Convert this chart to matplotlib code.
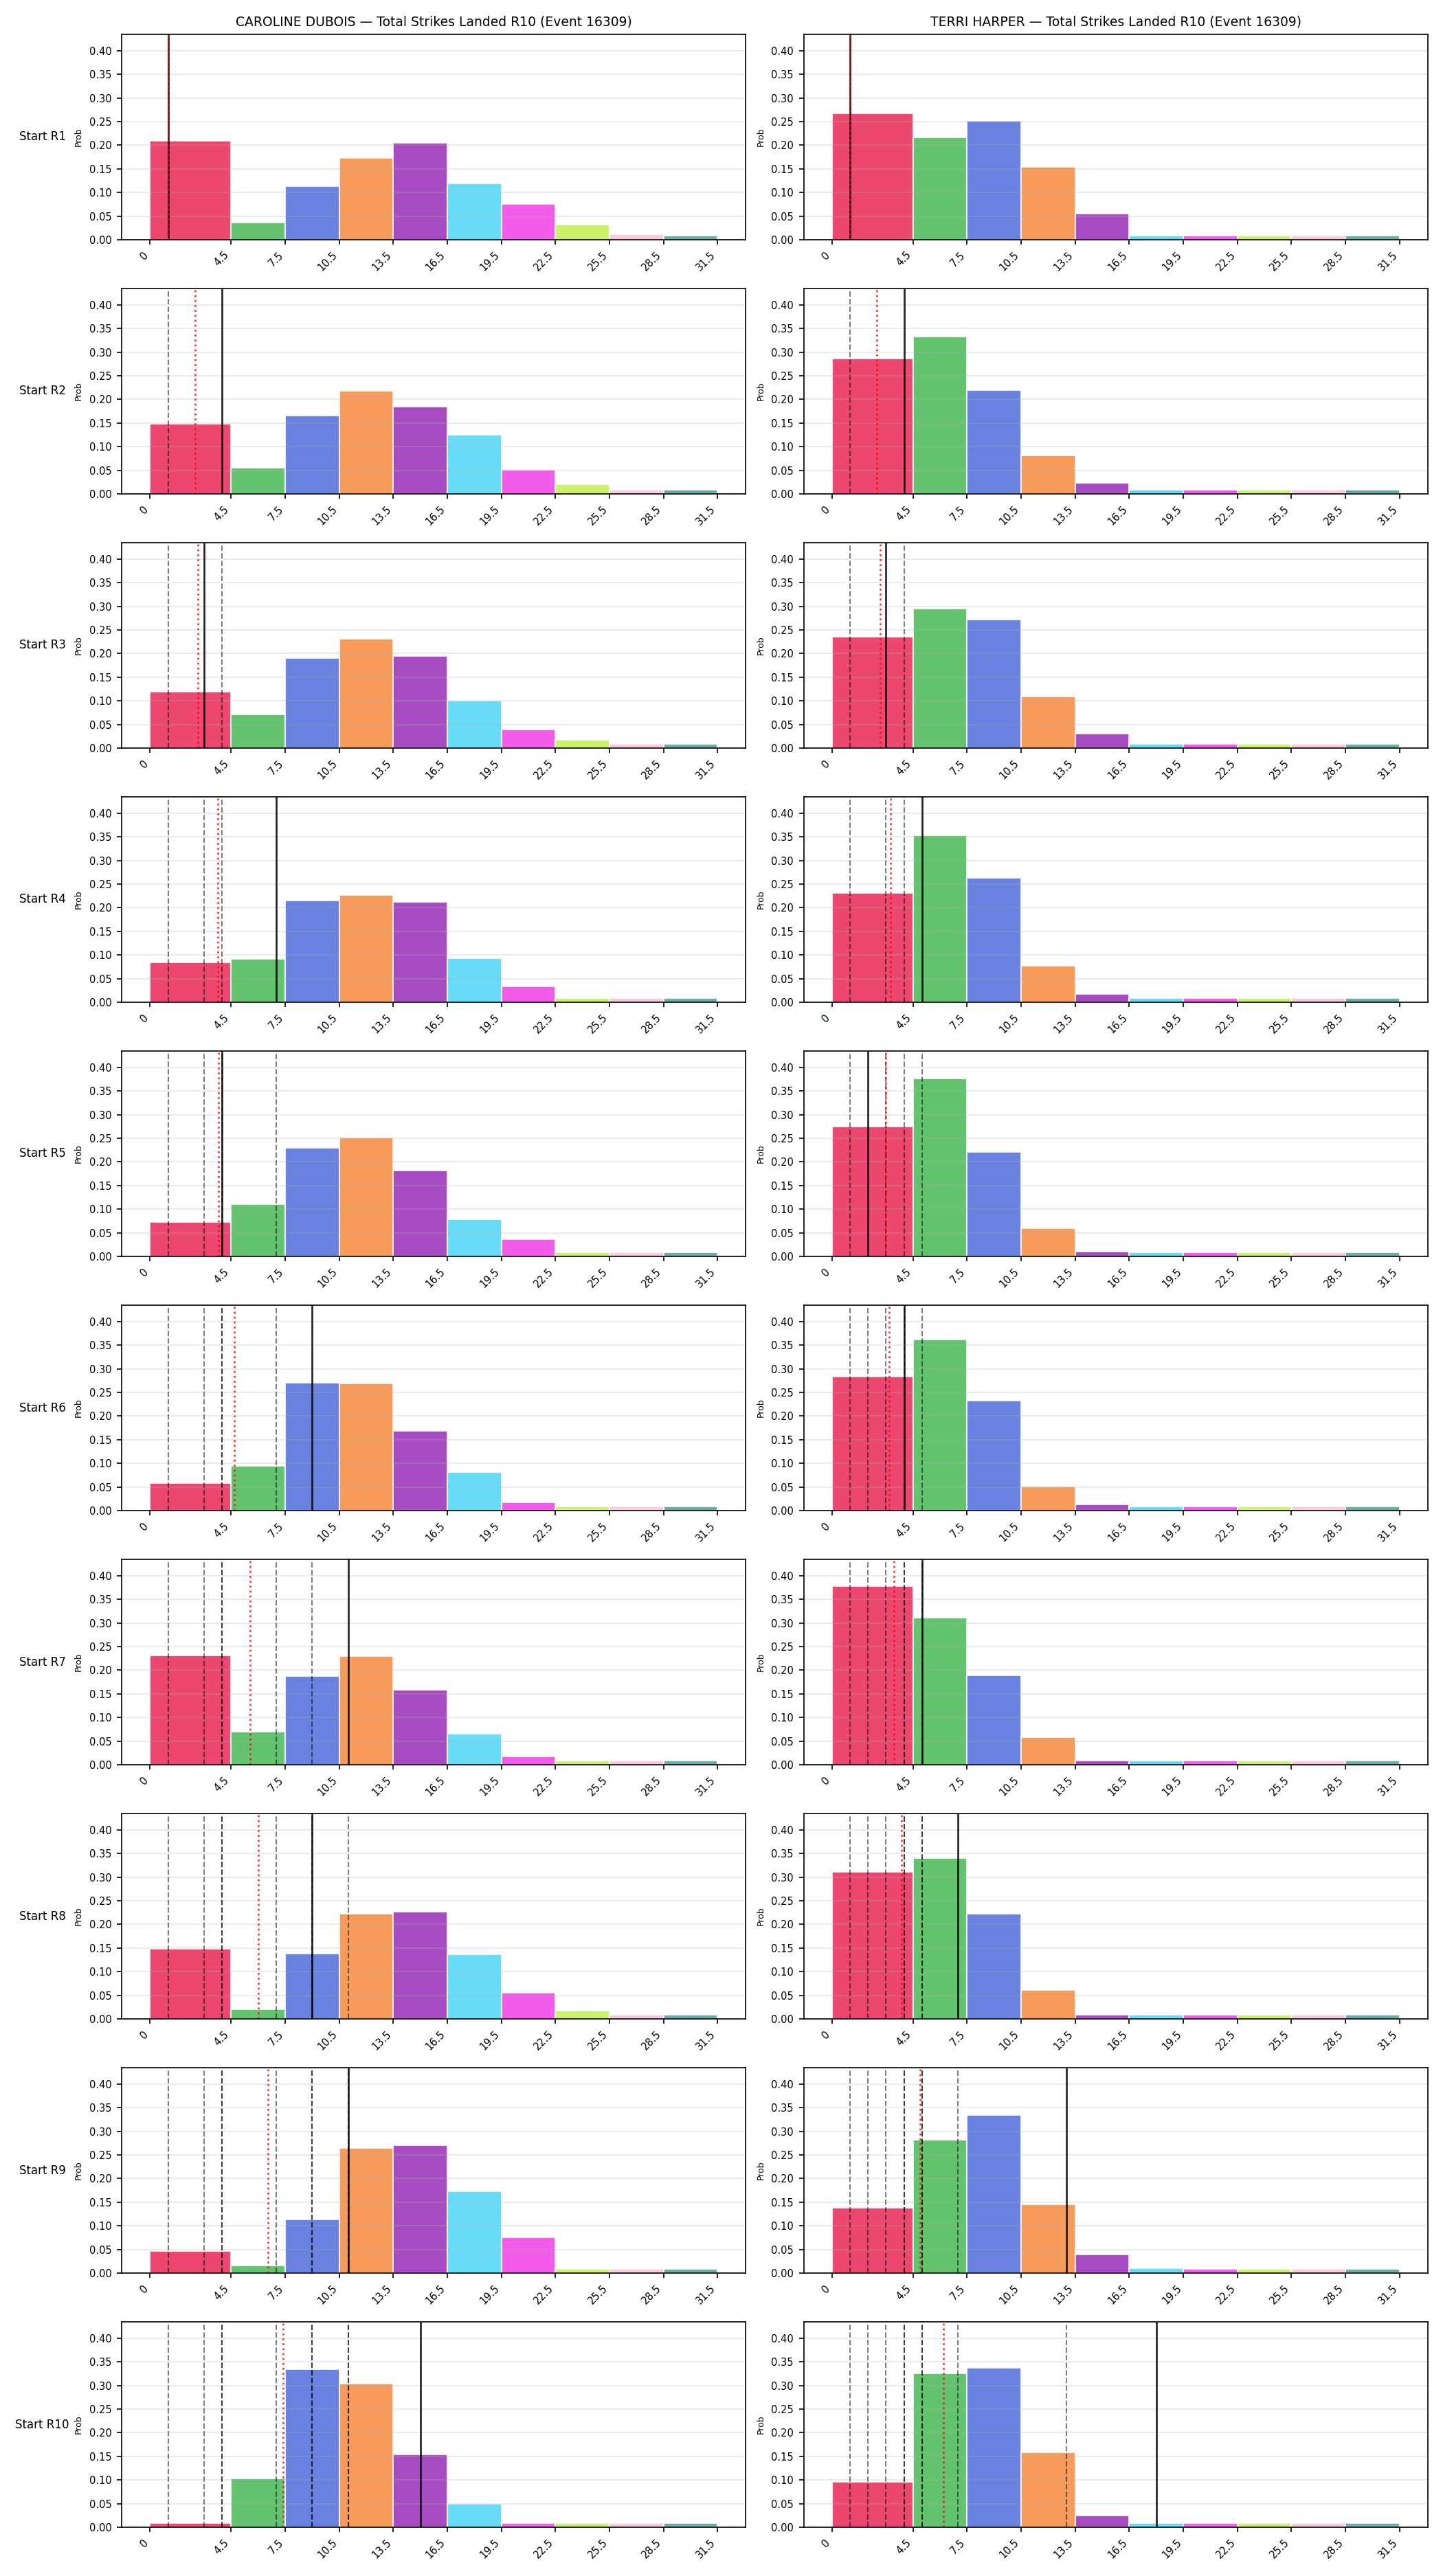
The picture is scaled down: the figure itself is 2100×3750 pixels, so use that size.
import numpy as np
import matplotlib
matplotlib.use("Agg")
import matplotlib.pyplot as plt

fighters = ["CAROLINE DUBOIS", "TERRI HARPER"]
event_id = 16309
market = "Total Strikes Landed R10"
row_labels = [f"Start R{i}" for i in range(1, 11)]

bin_edges = [0, 4.5, 7.5, 10.5, 13.5, 16.5, 19.5, 22.5, 25.5, 28.5, 31.5]
tick_labels = ["0", "4.5", "7.5", "10.5", "13.5", "16.5", "19.5", "22.5", "25.5", "28.5", "31.5"]
bin_colors = ["#e6194B", "#3cb44b", "#4363d8", "#f58231", "#911eb4",
              "#42d4f4", "#f032e6", "#bfef45", "#fabed4", "#469990"]

# probabilities per bin, one row per "Start Rk"
dubois_probs = [
    [0.210, 0.037, 0.114, 0.173, 0.205, 0.119, 0.076, 0.032, 0.012, 0.009],
    [0.148, 0.055, 0.166, 0.218, 0.184, 0.125, 0.051, 0.020, 0.009, 0.009],
    [0.119, 0.071, 0.190, 0.231, 0.195, 0.101, 0.039, 0.018, 0.009, 0.009],
    [0.084, 0.092, 0.215, 0.227, 0.212, 0.093, 0.034, 0.009, 0.009, 0.009],
    [0.073, 0.110, 0.229, 0.251, 0.182, 0.079, 0.036, 0.009, 0.009, 0.009],
    [0.058, 0.094, 0.270, 0.269, 0.168, 0.081, 0.017, 0.009, 0.009, 0.009],
    [0.231, 0.070, 0.188, 0.230, 0.158, 0.065, 0.018, 0.009, 0.009, 0.009],
    [0.149, 0.021, 0.138, 0.223, 0.227, 0.136, 0.055, 0.017, 0.009, 0.009],
    [0.046, 0.016, 0.113, 0.264, 0.270, 0.173, 0.075, 0.009, 0.009, 0.009],
    [0.009, 0.103, 0.334, 0.304, 0.154, 0.049, 0.009, 0.009, 0.009, 0.009],
]
harper_probs = [
    [0.267, 0.217, 0.251, 0.154, 0.055, 0.009, 0.009, 0.009, 0.009, 0.009],
    [0.286, 0.333, 0.220, 0.081, 0.023, 0.009, 0.009, 0.009, 0.009, 0.009],
    [0.236, 0.295, 0.272, 0.109, 0.030, 0.009, 0.009, 0.009, 0.009, 0.009],
    [0.231, 0.353, 0.263, 0.077, 0.018, 0.009, 0.009, 0.009, 0.009, 0.009],
    [0.275, 0.377, 0.221, 0.059, 0.010, 0.009, 0.009, 0.009, 0.009, 0.009],
    [0.283, 0.362, 0.233, 0.051, 0.013, 0.009, 0.009, 0.009, 0.009, 0.009],
    [0.378, 0.311, 0.189, 0.058, 0.009, 0.009, 0.009, 0.009, 0.009, 0.009],
    [0.311, 0.340, 0.222, 0.061, 0.009, 0.009, 0.009, 0.009, 0.009, 0.009],
    [0.138, 0.282, 0.334, 0.145, 0.039, 0.010, 0.009, 0.009, 0.009, 0.009],
    [0.096, 0.326, 0.337, 0.159, 0.025, 0.009, 0.009, 0.009, 0.009, 0.009],
]

# observed strikes landed per round (marker lines)
dubois_strikes = [1, 4, 3, 7, 4, 9, 11, 9, 11, 15]
harper_strikes = [1, 4, 3, 5, 2, 4, 5, 7, 13, 18]

all_probs = [dubois_probs, harper_probs]
all_strikes = [dubois_strikes, harper_strikes]

edges = np.array(bin_edges)
lefts = edges[:-1]
widths = np.diff(edges)
ymax = max(max(max(r) for r in p) for p in all_probs) * 1.15

fig, axes = plt.subplots(10, 2, figsize=(14, 25), dpi=150)
fig.subplots_adjust(left=177 / 2100, right=2078 / 2100, top=1 - 50 / 3750,
                    bottom=71 / 3750, wspace=0.0925, hspace=0.2375)

for col in range(2):
    probs = all_probs[col]
    strikes = all_strikes[col]
    for row in range(10):
        ax = axes[row, col]
        ax.bar(lefts, probs[row], width=widths, align="edge", color=bin_colors,
               edgecolor="white", linewidth=1, alpha=0.8)
        for v in strikes[:row]:
            ax.axvline(v, color="k", linestyle="--", linewidth=1, alpha=0.5)
        ax.axvline(strikes[row], color="k", linestyle="-", linewidth=1.3, alpha=0.85)
        ax.axvline(np.mean(strikes[:row + 1]), color="red", linestyle=":", linewidth=1.3, alpha=0.8)
        ax.set_ylim(0, ymax)
        ax.set_xticks(edges)
        ax.set_xticklabels(tick_labels, rotation=45, ha="right", fontsize=7)
        ax.tick_params(axis="y", labelsize=7)
        ax.set_ylabel("Prob", fontsize=6)
        ax.grid(axis="y", alpha=0.3)
        if row == 0:
            ax.set_title(f"{fighters[col]} \u2014 {market} (Event {event_id})", fontsize=9)
        if col == 0:
            ax.text(-0.127, 0.5, row_labels[row], transform=ax.transAxes,
                    ha="center", va="center", fontsize=8)

fig.savefig("out.png", dpi=150)
